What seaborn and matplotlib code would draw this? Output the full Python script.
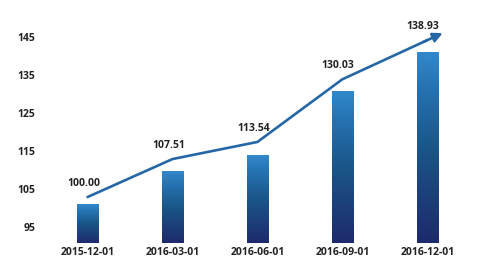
import numpy as np
import matplotlib
matplotlib.use("Agg")
import matplotlib.pyplot as plt
from matplotlib.colors import LinearSegmentedColormap
import seaborn as sns
import pandas as pd

# ---- data ----
dates = ["2015-12-01", "2016-03-01", "2016-06-01", "2016-09-01", "2016-12-01"]
bar_vals = [101.0, 109.5, 113.8, 130.8, 141.0]
line_vals = [102.9, 112.9, 117.4, 133.9, 144.2]
point_labels = ["100.00", "107.51", "113.54", "130.03", "138.93"]
yticks = [95, 105, 115, 125, 135, 145]

sns.set_theme(style="white")
plt.rcParams['font.family'] = ['Open Sans', 'DejaVu Sans']

fig = plt.figure(figsize=(5, 2.8), dpi=100)
ax = fig.add_axes([0.08, (280 - 243) / 280, 0.88, 223 / 280])

df = pd.DataFrame({"date": dates, "value": bar_vals})
sns.barplot(data=df, x="date", y="value", ax=ax, width=0.25, color="#1b5a8e")

cmap = LinearSegmentedColormap.from_list(
    "bar", [(0.0, "#1e2a6c"), (0.5, "#1a5688"), (0.8, "#2571b0"), (1.0, "#3189cc")])
grad = np.linspace(0, 1, 256).reshape(-1, 1)
ylo, yhi = 90.8, 149.5
for p in ax.patches:
    x0, w, top = p.get_x(), p.get_width(), p.get_y() + p.get_height()
    p.set_visible(False)
    ax.imshow(grad, extent=[x0, x0 + w, ylo, top], aspect="auto",
              cmap=cmap, origin="lower", zorder=2)

pos = np.arange(len(dates))
line_color = "#2567a6"
sns.lineplot(x=pos, y=line_vals, ax=ax, color=line_color, lw=1.9, zorder=3)
# arrowhead extends beyond the last point along the last segment
dx = 0.18
slope = (line_vals[-1] - line_vals[-2]) / (pos[-1] - pos[-2])
tip = (pos[-1] + dx, line_vals[-1] + slope * dx)
ax.annotate("", xy=tip, xytext=(pos[-1] - 0.05, line_vals[-1] - slope * 0.05),
            arrowprops=dict(arrowstyle="-|>", color=line_color, lw=1.9,
                            mutation_scale=14, shrinkA=0, shrinkB=0), zorder=4)

for x, v, lab in zip(pos, line_vals, point_labels):
    ax.annotate(lab, xy=(x, v), xytext=(-3, 10), textcoords="offset points",
                ha="center", va="center", fontsize=7.5, fontweight="bold",
                color="#222222", annotation_clip=False)

ax.set_xlim(-0.56, 4.62)
ax.set_ylim(ylo, yhi)
ax.set_yticks(yticks)
ax.set_xlabel("")
ax.set_ylabel("")
for s in ax.spines.values():
    s.set_visible(False)
ax.tick_params(axis="both", length=0, labelsize=7.5, colors="#222222")
ax.tick_params(axis="y", pad=3.5)
ax.tick_params(axis="x", pad=3)
for t in ax.get_xticklabels() + ax.get_yticklabels():
    t.set_fontweight("bold")
ax.grid(False)

fig.savefig("out.png", dpi=100)
